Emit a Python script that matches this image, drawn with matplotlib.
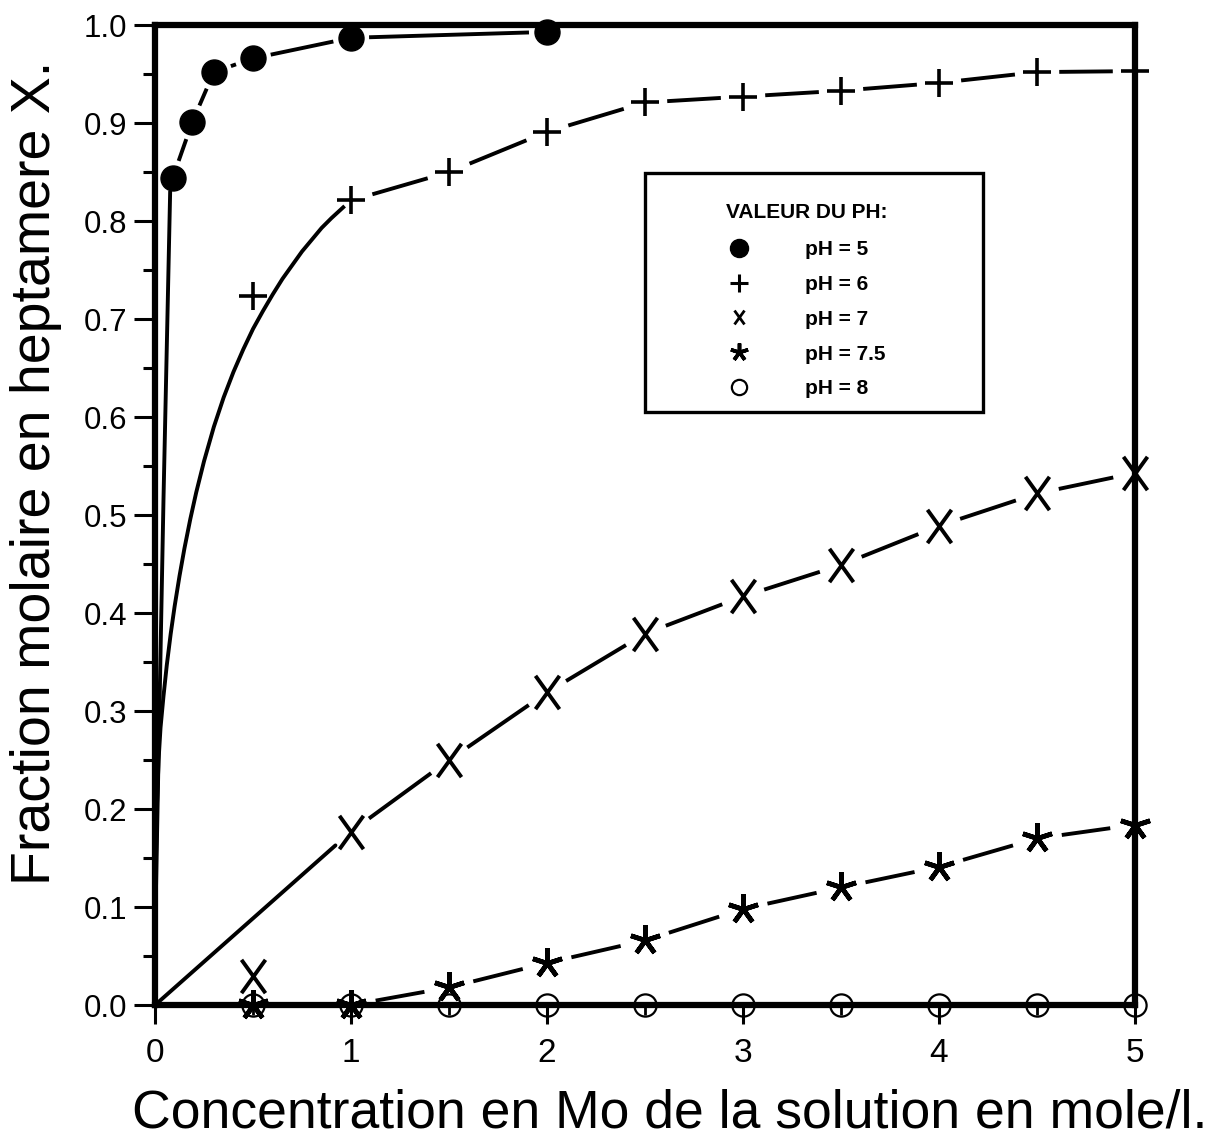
import matplotlib
matplotlib.use("Agg")
import matplotlib.pyplot as plt
from matplotlib.path import Path
from matplotlib.lines import Line2D
from matplotlib.patches import Rectangle

plt.rcParams['font.family'] = ['Liberation Sans', 'DejaVu Sans']

# ---------------- data ----------------
conc = [0.5, 1.0, 1.5, 2.0, 2.5, 3.0, 3.5, 4.0, 4.5, 5.0]

x_ph5 = [0.09, 0.19, 0.30, 0.50, 1.0, 2.0]
y_ph5 = [0.844, 0.901, 0.952, 0.966, 0.987, 0.993]
curve_ph5_x = [0.0, 0.005, 0.043, 0.077]
curve_ph5_y = [0.0, 0.12, 0.515, 0.829]

y_ph6 = [0.724, 0.821, 0.850, 0.891, 0.921, 0.927, 0.933, 0.941, 0.952, 0.953]
curve_ph6_x = [0.0, 0.002, 0.005, 0.010, 0.018, 0.028, 0.043, 0.060, 0.080,
               0.100, 0.125, 0.150, 0.180, 0.210, 0.250, 0.300, 0.350, 0.400,
               0.450, 0.500, 0.550, 0.600, 0.650, 0.700, 0.750, 0.800, 0.850,
               0.900, 0.960]
curve_ph6_y = [0.0, 0.090, 0.150, 0.205, 0.250, 0.283, 0.315, 0.347, 0.379,
               0.407, 0.438, 0.466, 0.496, 0.523, 0.555, 0.590, 0.620, 0.646,
               0.669, 0.690, 0.708, 0.725, 0.741, 0.755, 0.769, 0.781, 0.793,
               0.803, 0.814]

y_ph7 = [0.030, 0.177, 0.250, 0.319, 0.379, 0.417, 0.449, 0.489, 0.522, 0.543]
y_ph75 = [0.0, 0.0, 0.018, 0.043, 0.066, 0.098, 0.120, 0.141, 0.170, 0.184]
y_ph8 = [0.0, 0.0, 0.0, 0.0, 0.0, 0.0, 0.0, 0.0, 0.0, 0.0]

legend_labels = ['pH = 5', 'pH = 6', 'pH = 7', 'pH = 7.5', 'pH = 8']
legend_title = 'VALEUR DU PH:'
xticks = [0, 1, 2, 3, 4, 5]
yticks = [0.0, 0.1, 0.2, 0.3, 0.4, 0.5, 0.6, 0.7, 0.8, 0.9, 1.0]

# ---------------- styles ----------------
LW = 2.8
X_MARK = Path([(-0.36, -0.5), (0.36, 0.5), (-0.36, 0.5), (0.36, -0.5)],
              [Path.MOVETO, Path.LINETO, Path.MOVETO, Path.LINETO])
STAR = (5, 2, 0)

fig = plt.figure(figsize=(12.16, 11.39), dpi=100)
ax = fig.add_axes([0.1275, 0.1176, 0.8059, 0.8604])
ax.set_xlim(0, 5)
ax.set_ylim(0, 1)


def segments(xs, ys, shrink, skip=0):
    pts = list(zip(xs, ys))[skip:]
    for (x0, y0), (x1, y1) in zip(pts[:-1], pts[1:]):
        ax.annotate('', xy=(x1, y1), xytext=(x0, y0),
                    arrowprops=dict(arrowstyle='-', shrinkA=shrink, shrinkB=shrink,
                                    lw=LW, color='black', capstyle='butt'),
                    annotation_clip=False)


# pH = 5
ax.plot(curve_ph5_x, curve_ph5_y, '-', color='black', lw=LW, clip_on=False)
segments(x_ph5, y_ph5, 13)
ax.plot(x_ph5, y_ph5, 'o', color='black', ms=18, clip_on=False, zorder=5)

# pH = 6
ax.plot(curve_ph6_x, curve_ph6_y, '-', color='black', lw=LW, clip_on=False)
segments(conc, y_ph6, 16, skip=1)
ax.plot(conc, y_ph6, '+', color='black', ms=20, mew=2.6, clip_on=False, zorder=5)

# pH = 7
ax.annotate('', xy=(conc[1], y_ph7[1]), xytext=(0, 0),
            arrowprops=dict(arrowstyle='-', shrinkA=0, shrinkB=15, lw=LW,
                            color='black'), annotation_clip=False)
segments(conc, y_ph7, 16, skip=1)
ax.plot(conc, y_ph7, linestyle='none', marker=X_MARK, color='black', ms=24,
        mew=2.8, clip_on=False, zorder=5)

# pH = 7.5
segments(conc, y_ph75, 18, skip=1)
ax.plot(conc, y_ph75, linestyle='none', marker=STAR, color='black', ms=22,
        mew=3.4, clip_on=False, zorder=5)

# pH = 8
ax.plot(conc, y_ph8, '-', color='black', lw=LW, clip_on=False)
ax.plot(conc, y_ph8, 'o', mfc='none', mec='black', ms=16, mew=1.6,
        clip_on=False, zorder=5)

# ---------------- axes styling ----------------
for s in ax.spines.values():
    s.set_linewidth(4.5)
    s.set_zorder(6)

ax.set_xticks(xticks)
ax.set_xticklabels([str(v) for v in xticks])
ax.set_xticks([0.5, 1.5, 2.5, 3.5, 4.5], minor=True)
ax.set_yticks(yticks)
ax.set_yticklabels([f'{v:.1f}' for v in yticks])
ax.set_yticks([0.05 + 0.1 * i for i in range(10)], minor=True)

ax.tick_params(axis='both', which='major', direction='out', width=2.2, color='black')
ax.tick_params(axis='y', which='major', length=15, pad=5, labelsize=22.5)
ax.tick_params(axis='x', which='major', length=14, pad=10, labelsize=24)
ax.tick_params(axis='y', which='minor', direction='out', length=8.5, width=2.2)
ax.tick_params(axis='x', which='minor', direction='out', length=7, width=2.0)

ax.set_xlabel('Concentration en Mo de la solution en mole/l.', fontsize=38.5)
ax.set_ylabel('Fraction molaire en heptamere X.', fontsize=40)
ax.xaxis.set_label_coords(0.5255, -0.085)
ax.yaxis.set_label_coords(-0.095, 0.543)

# ---------------- legend ----------------
handles = [
    Line2D([], [], linestyle='none', marker='o', color='black', ms=13),
    Line2D([], [], linestyle='none', marker='+', color='black', ms=13, mew=2.2),
    Line2D([], [], linestyle='none', marker=X_MARK, color='black', ms=10, mew=2.0),
    Line2D([], [], linestyle='none', marker=STAR, color='black', ms=13, mew=2.6),
    Line2D([], [], linestyle='none', marker='o', mfc='none', mec='black', ms=11, mew=1.6),
]
leg = ax.legend(handles, legend_labels, title=legend_title, loc='upper left',
                bbox_to_anchor=(0.572, 0.829), frameon=False, borderpad=0,
                handlelength=1.1, handletextpad=2.6, labelspacing=0.76,
                prop={'size': 15, 'weight': 'bold'},
                title_fontproperties={'size': 15, 'weight': 'bold'})
leg._legend_box.sep = 13
ax.add_patch(Rectangle((0.5, 0.605), 0.345, 0.244, transform=ax.transAxes,
                       fill=False, lw=2.4, ec='black', zorder=7))

fig.savefig('out.png', dpi=100)
